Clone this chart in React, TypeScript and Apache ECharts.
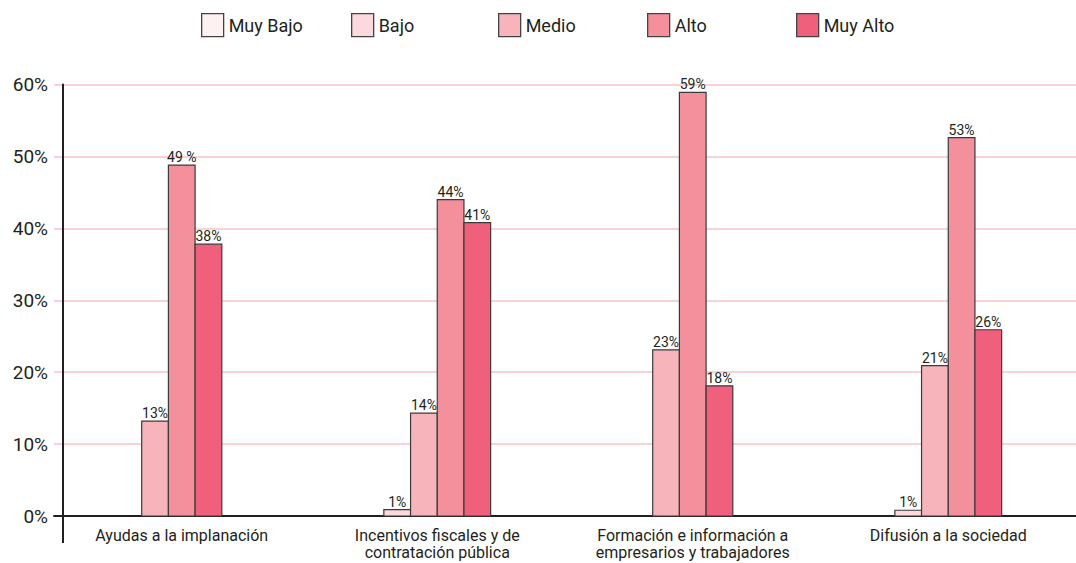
import React, { useEffect, useRef } from "react";
import * as echarts from "echarts";

const categories = [
  "Ayudas a la implanación",
  "Incentivos fiscales y de\ncontratación pública",
  "Formación e información a\nempresarios y trabajadores",
  "Difusión a la sociedad",
];
const levels = ["Muy Bajo", "Bajo", "Medio", "Alto", "Muy Alto"];
const muyBajo = [0, 0, 0, 0];
const bajo = [0, 0.9, 0, 0.8];
const medio = [13.2, 14.3, 23.1, 20.9];
const alto = [48.8, 44.0, 58.9, 52.6];
const muyAlto = [37.8, 40.8, 18.1, 25.9];
const altoLabels = ["49 %", "44%", "59%", "53%"];
const yTicks = [0, 10, 20, 30, 40, 50, 60];
const colors = ["#fef1f1", "#fcd9dd", "#f7b4ba", "#f4909c", "#f0607c"];
const legendLefts = [201, 351, 498, 647, 796];

const seriesValues = [muyBajo, bajo, medio, alto, muyAlto];
const FONT = "Roboto";
const TEXT = "#231f20";

function labelFor(s: number, c: number): string {
  if (s === 3) return altoLabels[c];
  return Math.round(seriesValues[s][c]) + "%";
}

export default function App() {
  const ref = useRef<HTMLDivElement>(null);
  useEffect(() => {
    document.body.style.margin = "0";
    if (!ref.current) return;
    const chart = echarts.init(ref.current, null, { renderer: "svg" });

    const series = levels.map((name, s) => ({
      name,
      type: "custom",
      itemStyle: { color: colors[s], borderColor: "#333", borderWidth: 1 },
      data: categories.map((_, c) => [c, seriesValues[s][c]]),
      renderItem: (params: any, api: any) => {
        const c = api.value(0);
        const v = api.value(1);
        if (!v) return null;
        const present = seriesValues
          .map((arr, i) => (arr[c] > 0 ? i : -1))
          .filter((i) => i >= 0);
        const n = present.length;
        const slot = present.indexOf(s);
        const top = api.coord([c, v]);
        const base = api.coord([c, 0]);
        const bw = api.size([1, 0])[0] * 0.1045;
        const x = top[0] + (slot - (n - 1) / 2) * bw - bw / 2;
        return {
          type: "group",
          children: [
            {
              type: "rect",
              shape: { x, y: top[1], width: bw, height: base[1] - top[1] },
              style: { fill: colors[s], stroke: "#3a3a3a", lineWidth: 1.2 },
            },
            {
              type: "text",
              style: {
                text: labelFor(s, c),
                x: x + bw / 2,
                y: top[1] - 1,
                align: "center",
                verticalAlign: "bottom",
                fill: TEXT,
                fontSize: 14,
                fontFamily: FONT,
              },
            },
          ],
        };
      },
    }));

    const legends = levels.map((name, s) => ({
      left: legendLefts[s],
      top: 13,
      icon: "rect",
      itemWidth: 22,
      itemHeight: 23,
      itemGap: 0,
      padding: 0,
      selectedMode: false,
      data: [
        {
          name,
          itemStyle: { color: colors[s], borderColor: "#444", borderWidth: 1.3 },
        },
      ],
      textStyle: { fontSize: 18, color: TEXT, fontFamily: FONT, padding: [6, 0, 0, 0] },
    }));

    chart.setOption({
      animation: false,
      legend: legends,
      grid: { left: 54, right: 0, top: 84.5, bottom: 47, containLabel: false },
      xAxis: {
        type: "category",
        data: categories,
        axisLine: { lineStyle: { color: "#231f20", width: 2 } },
        axisTick: { show: false },
        axisLabel: {
          fontSize: 16,
          lineHeight: 17,
          color: TEXT,
          fontFamily: FONT,
          margin: 11,
          interval: 0,
        },
      },
      yAxis: {
        type: "value",
        min: yTicks[0],
        max: yTicks[yTicks.length - 1],
        interval: 10,
        offset: -9,
        axisLine: { show: true, lineStyle: { color: "#231f20", width: 2 } },
        axisTick: { show: false },
        axisLabel: {
          formatter: (v: number) => v + "%",
          fontSize: 19,
          color: TEXT,
          fontFamily: FONT,
          margin: 15,
        },
        splitLine: { lineStyle: { color: "#f7c3ca", width: 1.5 } },
      },
      graphic: [
        {
          type: "line",
          shape: { x1: 63, y1: 516, x2: 63, y2: 543 },
          style: { stroke: "#231f20", lineWidth: 2 },
        },
      ],
      series,
    });
    return () => chart.dispose();
  }, []);
  return <div ref={ref} style={{ width: 1076, height: 563 }} />;
}
